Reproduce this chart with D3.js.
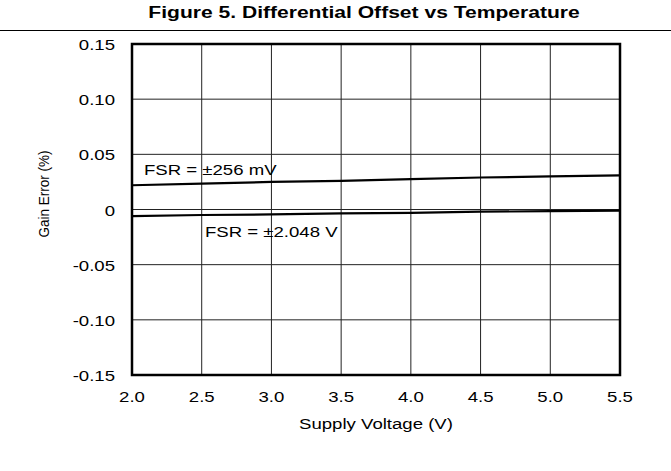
<!DOCTYPE html>
<html>
<head>
  <meta charset="utf-8">
  <script src="https://d3js.org/d3.v7.min.js"></script>
  <style>
    body { margin: 0; background: #fff; }
    text { font-family: "Liberation Sans", Arial, sans-serif; fill: #000; }
  </style>
</head>
<body>
<svg width="671" height="471"></svg>
<script>

  // supply voltage (V)
  var voltage = [2.0, 2.5, 3.0, 3.5, 4.0, 4.5, 5.0, 5.5];
  // gain error (%) for each range
  var fsr256 = [0.022, 0.0235, 0.025, 0.026, 0.0275, 0.029, 0.030, 0.031];
  var fsr2048 = [-0.006, -0.005, -0.0045, -0.0035, -0.003, -0.002, -0.0015, -0.001];

  var xTicks = [2.0, 2.5, 3.0, 3.5, 4.0, 4.5, 5.0, 5.5];
  var yTicks = [0.15, 0.10, 0.05, 0, -0.05, -0.10, -0.15];
  var yTickLabels = ["0.15", "0.10", "0.05", "0", "-0.05", "-0.10", "-0.15"];

  var svg = d3.select("svg");
  var plotL = 132, plotR = 620, plotT = 44, plotB = 375;
  var stretch = 1.24; // text in the picture is drawn wide

  var x = d3.scaleLinear().domain([2.0, 5.5]).range([plotL, plotR]);
  var y = d3.scaleLinear().domain([-0.15, 0.15]).range([plotB, plotT]);

  function label(px, py, str, anchor, size, weight) {
    svg.append("text")
        .attr("transform", "translate(" + px + "," + py + ") scale(" + stretch + ",1)")
        .attr("text-anchor", anchor)
        .style("font-size", size + "px")
        .style("font-weight", weight || "normal")
        .text(str);
  }

  // title + rule
  label(364, 18, "Figure 5. Differential Offset vs Temperature", "middle", 17, "bold");
  svg.append("line")
      .attr("x1", 0).attr("x2", 671).attr("y1", 30.5).attr("y2", 30.5)
      .attr("stroke", "#000").attr("stroke-width", 1.2);

  // grid
  svg.append("g").selectAll("line").data(xTicks).enter().append("line")
      .attr("x1", function(d) { return x(d); })
      .attr("x2", function(d) { return x(d); })
      .attr("y1", plotT).attr("y2", plotB)
      .attr("stroke", "#222").attr("stroke-width", 1);
  svg.append("g").selectAll("line").data(yTicks).enter().append("line")
      .attr("y1", function(d) { return y(d); })
      .attr("y2", function(d) { return y(d); })
      .attr("x1", plotL).attr("x2", plotR)
      .attr("stroke", "#222").attr("stroke-width", 1);

  // data lines
  var line = d3.line()
      .x(function(d, i) { return x(voltage[i]); })
      .y(function(d) { return y(d); });
  [fsr256, fsr2048].forEach(function(s) {
    svg.append("path")
        .attr("d", line(s))
        .attr("fill", "none")
        .attr("stroke", "#000")
        .attr("stroke-width", 2.2);
  });

  // frame
  svg.append("rect")
      .attr("x", plotL).attr("y", plotT)
      .attr("width", plotR - plotL).attr("height", plotB - plotT)
      .attr("fill", "none").attr("stroke", "#000").attr("stroke-width", 2.5);

  // tick labels
  yTicks.forEach(function(d, i) {
    label(115, y(d) + 6, yTickLabels[i], "end", 15);
  });
  xTicks.forEach(function(d) {
    label(x(d), 402, d.toFixed(1), "middle", 15);
  });

  // axis titles
  label(376, 429, "Supply Voltage (V)", "middle", 15);
  svg.append("text")
      .attr("transform", "translate(49,194) rotate(-90) scale(0.9,1)")
      .attr("text-anchor", "middle")
      .style("font-size", "15px")
      .text("Gain Error (%)");

  // series labels
  label(144, 175, "FSR = \u00b1256 mV", "start", 15);
  label(205, 237, "FSR = \u00b12.048 V", "start", 15);

</script>
</body>
</html>
